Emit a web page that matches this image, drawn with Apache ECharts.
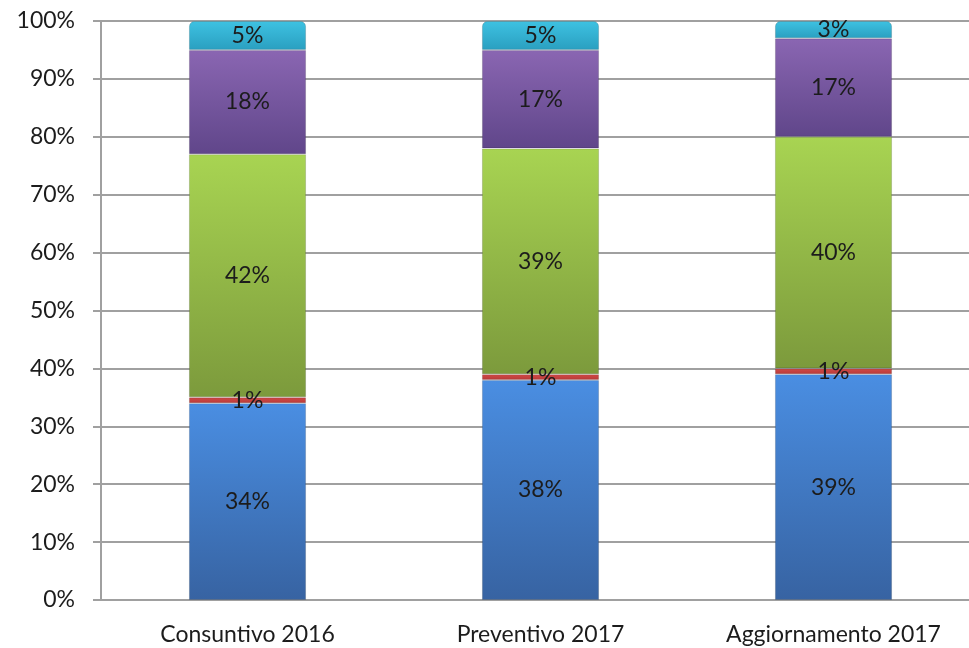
<!DOCTYPE html>
<html>
<head>
<meta charset="utf-8">
<script src="https://cdn.jsdelivr.net/npm/echarts@6/dist/echarts.min.js"></script>
<style>html,body{margin:0;padding:0;background:#fff;overflow:hidden}#c{width:980px;height:648px}</style>
</head>
<body>
<div id="c"></div>
<script>
var categories = ['Consuntivo 2016', 'Preventivo 2017', 'Aggiornamento 2017'];
var serieBlu = [34, 38, 39];
var serieRossa = [1, 1, 1];
var serieVerde = [42, 39, 40];
var serieViola = [18, 17, 17];
var serieAzzurra = [5, 5, 3];
var yTicks = [0, 10, 20, 30, 40, 50, 60, 70, 80, 90, 100];

var FONT = 'Lato';
function grad(top, bottom) {
  return new echarts.graphic.LinearGradient(0, 0, 0, 1, [
    {offset: 0, color: top}, {offset: 1, color: bottom}
  ]);
}
function mk(name, data, top, bottom, radius) {
  return {
    name: name, type: 'bar', stack: 'tot', data: data, barWidth: '40%',
    itemStyle: {color: grad(top, bottom), borderRadius: radius || 0,
      borderColor: 'rgba(0,0,0,0.14)', borderWidth: 1},
    label: {show: true, position: 'inside', formatter: '{c}%', color: '#1c1c1c',
      fontFamily: FONT, fontSize: 23}
  };
}
var chart = echarts.init(document.getElementById('c'));
chart.setOption({
  animation: false,
  grid: {left: 101, top: 21, right: 0, bottom: 48, containLabel: false},
  xAxis: {
    type: 'category', data: categories,
    axisLine: {lineStyle: {color: '#a0a0a0', width: 2}},
    axisTick: {show: false},
    axisLabel: {color: '#1c1c1c', fontFamily: FONT, fontSize: 23, margin: 23}
  },
  yAxis: {
    type: 'value', min: 0, max: 100, interval: 10,
    axisLine: {show: true, lineStyle: {color: '#a0a0a0', width: 2}},
    axisTick: {show: true, length: 8, lineStyle: {color: '#a0a0a0', width: 2}},
    splitLine: {lineStyle: {color: '#a0a0a0', width: 2}},
    axisLabel: {color: '#1c1c1c', fontFamily: FONT, fontSize: 23, margin: 26,
      formatter: function (v) { return yTicks.indexOf(v) >= 0 ? v + '%' : ''; }}
  },
  series: [
    mk('Blu', serieBlu, '#4a8ee2', '#3763a2'),
    mk('Rosso', serieRossa, '#d24a48', '#b83a38'),
    mk('Verde', serieVerde, '#a8d452', '#7c9a3c'),
    mk('Viola', serieViola, '#8a66b2', '#60468a'),
    mk('Azzurro', serieAzzurra, '#3ec2e2', '#2a9fc0', [5, 5, 0, 0])
  ]
});
</script>
</body>
</html>
